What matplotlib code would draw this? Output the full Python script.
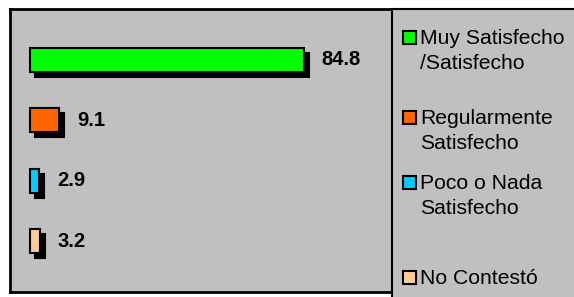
import matplotlib.pyplot as plt
from matplotlib.patches import Rectangle
from matplotlib.transforms import ScaledTranslation

categorias = ["Muy Satisfecho\n/Satisfecho", "Regularmente\nSatisfecho",
              "Poco o Nada\nSatisfecho", "No Contestó"]
valores = [84.8, 9.1, 2.9, 3.2]
colores = ["#00FF00", "#FF6600", "#00CCFF", "#FFCC99"]

plt.rcParams['font.family'] = ['Liberation Sans', 'DejaVu Sans']

W, H = 574, 297
gris = '#C0C0C0'

fig = plt.figure(figsize=(W / 100, H / 100), dpi=100)
fig.patch.set_facecolor('white')

# caja de leyenda (se sale por la derecha y por abajo)
fig.patches.append(Rectangle((392 / W, -0.1), 0.5, 1 - 9 / H + 0.1,
                             transform=fig.transFigure, facecolor=gris,
                             edgecolor='black', lw=1.5, zorder=0))

ax = fig.add_axes([10 / W, (H - 292) / H, 382 / W, 283 / H])
ax.set_facecolor(gris)
for s in ax.spines.values():
    s.set_linewidth(2)
    s.set_color('black')

y = list(range(len(valores)))
sombra = ax.transData + ScaledTranslation(5 / 100, -5 / 100, fig.dpi_scale_trans)
ax.barh(y, valores, height=0.40, color='black', edgecolor='black',
        lw=1.5, transform=sombra, zorder=1)
ax.barh(y, valores, height=0.40, color=colores, edgecolor='black',
        lw=1.5, zorder=2)

for yi, v in zip(y, valores):
    ax.annotate(f"{v:.1f}", (v, yi), xytext=(12.5, 0), textcoords='offset points',
                va='center', ha='left', fontsize=14.5, fontweight='bold')

ax.set_xlim(-6.2, 112)
ax.set_ylim(3.845, -0.845)
ax.set_xticks([])
ax.set_yticks([])

# leyenda (línea base de la primera línea de cada entrada, en px desde arriba)
bases = [44, 124, 189, 284]
for cat, col, b in zip(categorias, colores, bases):
    fig.patches.append(Rectangle((403 / W, 1 - b / H), 13 / W, 13 / H,
                                 transform=fig.transFigure, facecolor=col,
                                 edgecolor='black', lw=1.5, zorder=3))
    for k, linea in enumerate(cat.split("\n")):
        fig.text(420 / W, 1 - (b + 25 * k) / H, linea, va='baseline',
                 ha='left', fontsize=15.2)

fig.savefig('out.png', dpi=100)
